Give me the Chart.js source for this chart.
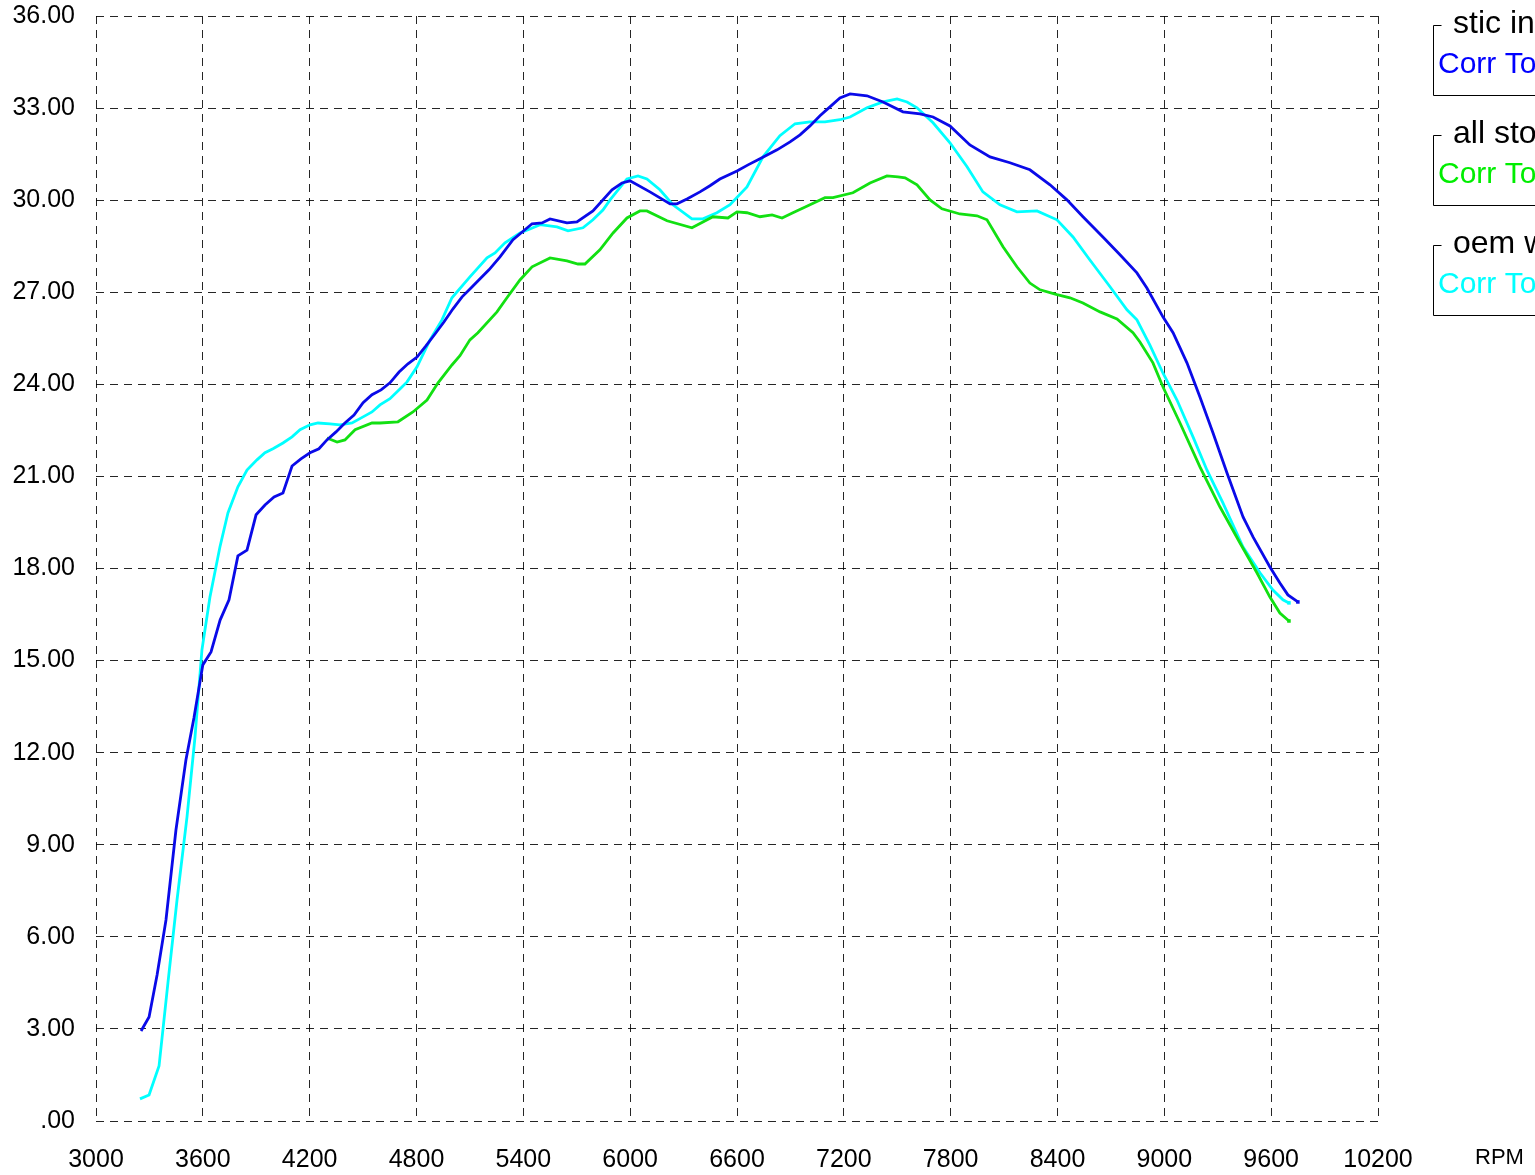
<!DOCTYPE html>
<html>
<head>
<meta charset="utf-8">
<script src="https://cdn.jsdelivr.net/npm/chart.js@4.4.1/dist/chart.umd.min.js"></script>
<style>
html,body{margin:0;padding:0;background:#fff;overflow:hidden;}
canvas{display:block;}
</style>
</head>
<body>
<canvas id="c" width="1535" height="1175"></canvas>
<script>
// ---- data ----
const xTicksRange = [3000, 10200];
const xStep = 600;
const yRange = [0, 36];
const yStep = 3;

const legendTitles = ["stic in", "all sto", "oem w"];
const legendSeries = ["Corr To", "Corr To", "Corr To"];
const axisTitleX = "RPM";

const blueRpm = [3253,3298,3343,3393,3449,3505,3550,3600,3646,3697,3747,3797,3848,3899,3949,4000,4050,4101,4151,4202,4252,4297,4348,4398,4449,4500,4550,4601,4651,4702,4752,4803,4853,4904,4954,5005,5056,5106,5157,5207,5269,5342,5449,5505,5550,5645,5701,5791,5898,5954,5999,6111,6224,6263,6319,6392,6448,6504,6600,6662,6729,6825,6898,6954,7010,7066,7122,7178,7235,7330,7420,7532,7628,7701,7796,7908,8021,8133,8245,8358,8453,8543,8655,8751,8846,8902,8992,9049,9127,9200,9273,9352,9442,9498,9593,9649,9694,9750];
const blueTq = [2.93,3.39,4.76,6.55,9.48,11.76,13.13,14.86,15.28,16.32,16.98,18.41,18.6,19.75,20.07,20.33,20.46,21.34,21.57,21.77,21.9,22.19,22.45,22.74,23.0,23.4,23.66,23.82,24.05,24.4,24.67,24.89,25.25,25.64,26.03,26.46,26.85,27.14,27.44,27.73,28.15,28.71,29.23,29.26,29.39,29.26,29.29,29.65,30.34,30.56,30.63,30.27,29.88,29.88,30.04,30.27,30.47,30.69,30.95,31.15,31.35,31.64,31.9,32.13,32.42,32.75,33.04,33.33,33.46,33.4,33.2,32.88,32.81,32.71,32.42,31.8,31.41,31.22,30.99,30.5,30.01,29.46,28.8,28.22,27.63,27.14,26.2,25.68,24.7,23.59,22.42,21.11,19.68,19.03,18.05,17.53,17.14,16.91];

const greenRpm = [4297,4354,4398,4455,4550,4595,4696,4780,4859,4921,4999,5044,5100,5145,5252,5308,5381,5449,5550,5645,5707,5746,5830,5904,5982,6055,6094,6207,6347,6465,6549,6600,6656,6729,6797,6853,6914,7010,7094,7139,7251,7347,7442,7504,7544,7611,7684,7751,7852,7948,8004,8094,8172,8245,8302,8397,8470,8543,8639,8734,8824,8863,8936,8992,9088,9200,9312,9425,9520,9593,9649,9700];
const greenTq = [22.25,22.12,22.19,22.52,22.74,22.74,22.78,23.1,23.49,24.05,24.63,24.93,25.45,25.68,26.36,26.82,27.4,27.83,28.12,28.02,27.92,27.92,28.38,28.93,29.42,29.65,29.65,29.33,29.1,29.46,29.42,29.62,29.59,29.46,29.52,29.42,29.59,29.85,30.08,30.08,30.24,30.56,30.79,30.76,30.73,30.5,30.01,29.72,29.55,29.49,29.36,28.48,27.83,27.3,27.08,26.92,26.82,26.65,26.36,26.13,25.68,25.38,24.7,23.92,22.74,21.31,20.01,18.83,17.86,17.07,16.55,16.29];

const cyanRpm = [3247,3298,3354,3404,3455,3511,3556,3595,3640,3696,3741,3797,3848,3904,3949,3994,4050,4101,4146,4202,4247,4314,4370,4438,4500,4550,4595,4651,4707,4747,4803,4876,4943,4999,5100,5196,5241,5297,5381,5437,5494,5589,5651,5735,5791,5847,5887,5982,6044,6094,6167,6240,6347,6409,6487,6561,6656,6746,6841,6926,7010,7094,7178,7235,7330,7420,7499,7555,7611,7701,7796,7892,7981,8077,8172,8285,8397,8487,8582,8695,8790,8846,8919,8992,9071,9161,9239,9329,9442,9537,9610,9666,9700];
const cyanTq = [0.72,0.85,1.79,4.5,7.2,9.9,12.51,15.35,17.07,18.7,19.81,20.66,21.21,21.54,21.77,21.9,22.09,22.29,22.52,22.68,22.74,22.71,22.68,22.74,22.94,23.1,23.33,23.53,23.85,24.08,24.57,25.45,26.1,26.82,27.5,28.12,28.28,28.61,28.93,29.06,29.2,29.13,29.0,29.1,29.36,29.68,30.01,30.69,30.79,30.69,30.34,29.85,29.39,29.39,29.59,29.85,30.43,31.41,32.1,32.49,32.55,32.55,32.62,32.71,33.01,33.2,33.3,33.2,33.01,32.52,31.87,31.09,30.27,29.85,29.62,29.65,29.36,28.8,28.05,27.18,26.43,26.1,25.28,24.37,23.49,22.29,21.21,20.14,18.7,17.86,17.3,16.98,16.88];

const lineColors = ["#0a0ae8", "#12e012", "#00ffff"];
const legendColors = ["#0000ff", "#00ee00", "#00ffff"];

// ---- build ----
function pts(xs, ys){ return xs.map((x,i)=>({x:x, y:ys[i]})); }
function endOnly(ctx){ return ctx.dataIndex === ctx.dataset.data.length-1 ? 2.5 : 0; }

const FONT = "'Liberation Sans', Arial, Helvetica, sans-serif";

const series = [
  {data: pts(blueRpm, blueTq), c: lineColors[0]},
  {data: pts(greenRpm, greenTq), c: lineColors[1]},
  {data: pts(cyanRpm, cyanTq), c: lineColors[2]}
];

const extras = {
  id: 'extras',
  afterDraw(chart){
    const ctx = chart.ctx;
    ctx.save();
    // RPM axis label
    ctx.fillStyle = '#000';
    ctx.font = '22px ' + FONT;
    ctx.textAlign = 'left';
    ctx.textBaseline = 'middle';
    ctx.fillText(axisTitleX, 1475, 1158);
    // legend boxes
    const left = 1433.5;
    for (let i = 0; i < 3; i++) {
      const top = 25.5 + i*110;
      const bottom = top + 70;
      ctx.strokeStyle = '#000';
      ctx.lineWidth = 1;
      ctx.beginPath();
      ctx.moveTo(left + 8, top);
      ctx.lineTo(left, top);
      ctx.lineTo(left, bottom);
      ctx.lineTo(1540, bottom);
      ctx.stroke();
      ctx.textBaseline = 'alphabetic';
      ctx.font = '32px ' + FONT;
      ctx.fillStyle = '#000';
      ctx.fillText(legendTitles[i], 1453, top + 7);
      ctx.font = '30px ' + FONT;
      ctx.fillStyle = legendColors[i];
      ctx.fillText(legendSeries[i], 1438, top + 47);
    }
    ctx.restore();
  }
};

new Chart(document.getElementById('c'), {
  type: 'line',
  data: {
    datasets: series.map(s => ({
      data: s.data,
      borderColor: s.c,
      backgroundColor: s.c,
      borderWidth: 2.8,
      fill: false,
      tension: 0,
      pointRadius: endOnly,
      pointStyle: 'rect',
      pointBorderWidth: 0
    }))
  },
  options: {
    responsive: false,
    animation: false,
    devicePixelRatio: 1,
    layout: {padding: {left: 0, right: 157, top: 16, bottom: 0}},
    plugins: {legend: {display: false}, tooltip: {enabled: false}, title: {display: false}},
    scales: {
      x: {
        type: 'linear',
        min: xTicksRange[0], max: xTicksRange[1],
        afterFit(scale){ scale.height = 54; scale.paddingLeft = 0; scale.paddingRight = 0; },
        border: {display: false, dash: [8, 6]},
        grid: {color: 'rgba(0,0,0,0.85)', lineWidth: 1, drawTicks: false},
        ticks: {stepSize: xStep, padding: 24, color: '#000', font: {size: 25, family: FONT},
                maxRotation: 0, autoSkip: false,
                callback: v => String(v)}
      },
      y: {
        type: 'linear',
        min: yRange[0], max: yRange[1],
        afterFit(scale){ scale.width = 96; scale.paddingTop = 0; scale.paddingBottom = 0; },
        border: {display: false, dash: [8, 6]},
        grid: {color: 'rgba(0,0,0,0.85)', lineWidth: 1, drawTicks: false},
        ticks: {stepSize: yStep, padding: 21, color: '#000', font: {size: 25, family: FONT},
                callback: v => v === 0 ? '.00' : v.toFixed(2)}
      }
    }
  },
  plugins: [extras]
});
</script>
</body>
</html>
